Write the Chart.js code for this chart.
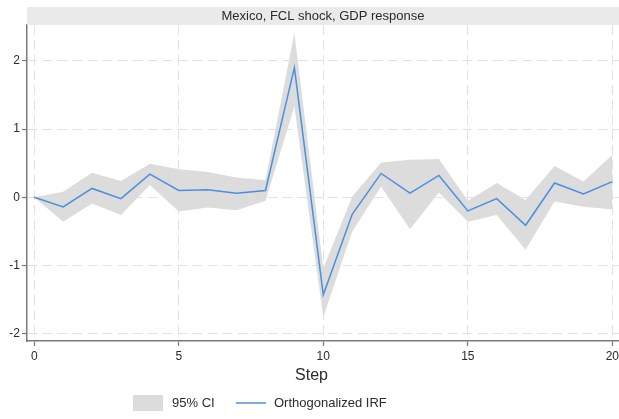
<!DOCTYPE html>
<html>
<head>
<meta charset="utf-8">
<title>Mexico, FCL shock, GDP response</title>
<script src="https://cdn.jsdelivr.net/npm/chart.js@4.4.1/dist/chart.umd.min.js"></script>
<style>
  html, body { margin: 0; padding: 0; background: #ffffff; }
  #wrap { width: 619px; height: 419px; }
</style>
</head>
<body>
<div id="wrap"><canvas id="irf" width="619" height="419"></canvas></div>
<script>
// Impulse response of GDP to an FCL shock, Mexico
const steps   = [0, 1, 2, 3, 4, 5, 6, 7, 8, 9, 10, 11, 12, 13, 14, 15, 16, 17, 18, 19, 20];
const irf     = [0, -0.14, 0.13, -0.02, 0.34, 0.10, 0.11, 0.06, 0.10, 1.90, -1.43, -0.25, 0.35, 0.06, 0.32, -0.20, -0.02, -0.41, 0.21, 0.05, 0.23];
const ciUpper = [0, 0.08, 0.36, 0.24, 0.49, 0.41, 0.37, 0.29, 0.25, 2.41, -1.04, 0.01, 0.51, 0.55, 0.56, -0.05, 0.21, -0.04, 0.46, 0.23, 0.62];
const ciLower = [0, -0.36, -0.09, -0.26, 0.18, -0.21, -0.15, -0.19, -0.05, 1.33, -1.76, -0.50, 0.16, -0.47, 0.07, -0.36, -0.26, -0.77, -0.06, -0.14, -0.18];
const xTicks  = [0, 5, 10, 15, 20];
const yTicks  = [-2, -1, 0, 1, 2];

const panelTitle = 'Mexico, FCL shock, GDP response';
const xTitle = 'Step';
const legendItems = ['95% CI', 'Orthogonalized IRF'];

const FONT = '"Liberation Sans", Arial, Helvetica, sans-serif';
const BAND = '#dcdcdc';
const LINE = '#4a8fe0';
const GRID = '#e2e2e2';
const AXIS = '#7a7a7a';
const TEXT = '#2b2b2b';

const toPoints = arr => steps.map((s, i) => ({ x: s, y: arr[i] }));

// Grey panel header, axis title and legend drawn around the plot area
const decorations = {
  id: 'decorations',
  beforeDraw(chart) {
    const { ctx, width, height } = chart;
    ctx.save();
    ctx.fillStyle = '#ffffff';
    ctx.fillRect(0, 0, width, height);
    ctx.restore();
  },
  afterDraw(chart) {
    const { ctx, chartArea } = chart;
    ctx.save();
    // header strip
    ctx.fillStyle = '#eaeaea';
    ctx.fillRect(chartArea.left, 7, chartArea.right - chartArea.left, 18);
    ctx.fillStyle = TEXT;
    ctx.font = '13px ' + FONT;
    ctx.textAlign = 'center';
    ctx.textBaseline = 'middle';
    ctx.fillText(panelTitle, (chartArea.left + chartArea.right) / 2, 16.5);

    // x axis title
    ctx.font = '16px ' + FONT;
    ctx.fillText(xTitle, 311.5, 376);

    // legend
    ctx.font = '13px ' + FONT;
    ctx.textAlign = 'left';
    ctx.fillStyle = BAND;
    ctx.fillRect(133, 395, 30, 16);
    ctx.fillStyle = TEXT;
    ctx.fillText(legendItems[0], 172, 403.5);
    ctx.strokeStyle = LINE;
    ctx.lineWidth = 1.5;
    ctx.beginPath();
    ctx.moveTo(236, 403);
    ctx.lineTo(266, 403);
    ctx.stroke();
    ctx.fillText(legendItems[1], 274, 403.5);
    ctx.restore();
  }
};

function fixTicks(values) {
  return scale => {
    scale.ticks = values.map(v => ({ value: v }));
  };
}

const gridOpts = {
  color: GRID,
  lineWidth: 1,
  drawTicks: true,
  tickLength: 5,
  tickColor: AXIS,
  tickWidth: 1.2
};

new Chart(document.getElementById('irf'), {
  type: 'line',
  data: {
    datasets: [
      {
        label: legendItems[0],
        data: toPoints(ciUpper),
        borderWidth: 0,
        borderColor: 'rgba(0,0,0,0)',
        backgroundColor: BAND,
        pointRadius: 0,
        fill: '+1',
        tension: 0,
        order: 2
      },
      {
        label: 'lower',
        data: toPoints(ciLower),
        borderWidth: 0,
        borderColor: 'rgba(0,0,0,0)',
        backgroundColor: BAND,
        pointRadius: 0,
        fill: false,
        tension: 0,
        order: 2
      },
      {
        label: legendItems[1],
        data: toPoints(irf),
        borderColor: LINE,
        borderWidth: 1.5,
        pointRadius: 0,
        fill: false,
        tension: 0,
        order: 1
      }
    ]
  },
  options: {
    responsive: false,
    animation: false,
    events: [],
    layout: { padding: { top: 25, right: 0, bottom: 0, left: 0 } },
    plugins: {
      legend: { display: false },
      title: { display: false },
      tooltip: { enabled: false }
    },
    scales: {
      x: {
        type: 'linear',
        min: -0.25,
        max: 20.23,
        afterBuildTicks: fixTicks(xTicks),
        afterFit(scale) {
          scale.height = 78;
          scale.paddingLeft = 0;
          scale.paddingRight = 0;
        },
        border: { display: true, color: AXIS, width: 1.5, dash: [10, 5] },
        grid: gridOpts,
        ticks: {
          color: TEXT,
          padding: 3,
          maxRotation: 0,
          font: { family: FONT, size: 12 },
          callback: v => String(v)
        }
      },
      y: {
        type: 'linear',
        min: -2.107,
        max: 2.526,
        afterBuildTicks: fixTicks(yTicks),
        afterFit(scale) {
          scale.width = 27;
          scale.paddingTop = 0;
          scale.paddingBottom = 0;
        },
        border: { display: true, color: AXIS, width: 1.5, dash: [10, 5] },
        grid: gridOpts,
        ticks: {
          color: TEXT,
          padding: 2,
          font: { family: FONT, size: 12 },
          callback: v => String(v)
        }
      }
    }
  },
  plugins: [decorations]
});
</script>
</body>
</html>
